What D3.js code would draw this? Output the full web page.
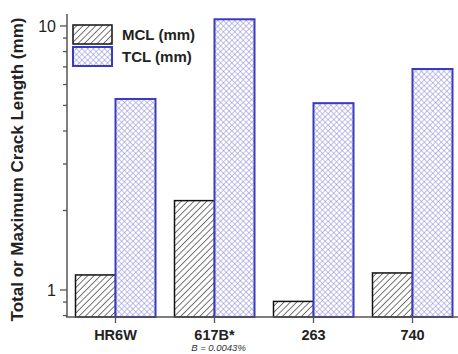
<!DOCTYPE html>
<html><head><meta charset="utf-8">
<script src="https://cdn.jsdelivr.net/npm/d3@7"></script>
<style>body{margin:0;background:#fff}svg{display:block}</style>
</head><body>
<svg id="c" width="458" height="354"></svg>
<script>
const categories = ["HR6W", "617B*", "263", "740"];
const mclValues = [1.14, 2.18, 0.905, 1.16];
const tclValues = [5.29, 10.6, 5.10, 6.87];
const seriesNames = ["MCL (mm)", "TCL (mm)"];
const yTickValues = [1, 10];
const yLabel = "Total or Maximum Crack Length (mm)";
const footnote = "B = 0.0043%";

const svg = d3.select("#c");
const defs = svg.append("defs");
const hatch = defs.append("pattern").attr("id","hatch").attr("patternUnits","userSpaceOnUse")
  .attr("width",4.5).attr("height",4.5).attr("patternTransform","rotate(45)");
hatch.append("rect").attr("width",4.5).attr("height",4.5).attr("fill","#fff");
hatch.append("line").attr("x1",0).attr("y1",0).attr("x2",0).attr("y2",4.5).attr("stroke","#1a1a1a").attr("stroke-width",1.2);
const cross = defs.append("pattern").attr("id","cross").attr("patternUnits","userSpaceOnUse")
  .attr("width",4).attr("height",4).attr("patternTransform","rotate(45)");
cross.append("rect").attr("width",4).attr("height",4).attr("fill","#fff");
cross.append("line").attr("x1",0).attr("y1",0).attr("x2",0).attr("y2",4).attr("stroke","#8e8ed6").attr("stroke-width",1.1);
cross.append("line").attr("x1",0).attr("y1",0).attr("x2",4).attr("y2",0).attr("stroke","#8e8ed6").attr("stroke-width",1.1);

const x0 = 67, yTop = 14, yBot = 317;
const x = d3.scaleBand().domain(categories).range([66, 462]).paddingInner(0).paddingOuter(0);
const y = d3.scaleLog().domain([0.79, 11.1]).range([yBot, yTop]);
const bw = 40;
const font = "Liberation Sans, Arial, sans-serif";

const g = svg.append("g");
categories.forEach((c,i)=>{
  const cx = x(c) + x.bandwidth()/2;
  g.append("rect").attr("x",cx-bw).attr("y",y(mclValues[i])).attr("width",bw)
    .attr("height",yBot-y(mclValues[i])).attr("fill","url(#hatch)").attr("stroke","#111").attr("stroke-width",1.5);
  g.append("rect").attr("x",cx).attr("y",y(tclValues[i])).attr("width",bw)
    .attr("height",yBot-y(tclValues[i])).attr("fill","url(#cross)").attr("stroke","#3a3ac4").attr("stroke-width",2);
});

// y axis
const minor = [0.8,0.9,2,3,4,5,6,7,8,9];
const ya = svg.append("g").attr("transform",`translate(${x0},0)`);
ya.append("line").attr("x1",0).attr("x2",0).attr("y1",yTop).attr("y2",yBot).attr("stroke","#555").attr("stroke-width",1.5);
ya.selectAll(".mn").data(minor).join("line").attr("x1",-4).attr("x2",0).attr("y1",d=>y(d)).attr("y2",d=>y(d)).attr("stroke","#555").attr("stroke-width",1.3);
ya.selectAll(".mj").data(yTickValues).join("line").attr("x1",-7).attr("x2",0).attr("y1",d=>y(d)).attr("y2",d=>y(d)).attr("stroke","#555").attr("stroke-width",1.3);
ya.selectAll(".tl").data(yTickValues).join("text").attr("x",-11).attr("y",d=>y(d)).attr("dy","0.36em")
  .attr("text-anchor","end").attr("font-family",font).attr("font-size",16).attr("fill","#222").text(d=>d);

// x axis
const xa = svg.append("g").attr("transform",`translate(0,${yBot})`);
xa.append("line").attr("x1",x0-1).attr("x2",458).attr("y1",0).attr("y2",0).attr("stroke","#555").attr("stroke-width",1.5);
xa.selectAll(".xt").data(categories).join("line").attr("x1",d=>x(d)+x.bandwidth()/2).attr("x2",d=>x(d)+x.bandwidth()/2)
  .attr("y1",0).attr("y2",6).attr("stroke","#555").attr("stroke-width",1.3);
xa.selectAll(".xl").data(categories).join("text").attr("x",d=>x(d)+x.bandwidth()/2).attr("y",23)
  .attr("text-anchor","middle").attr("font-family",font).attr("font-weight","bold")
  .attr("font-size",14.5).attr("fill","#222").text(d=>d);
xa.append("text").attr("x",x(categories[1])+x.bandwidth()/2+4).attr("y",34).attr("text-anchor","middle")
  .attr("font-family",font).attr("font-style","italic").attr("font-size",9.5).attr("fill","#333").text(footnote);

// y label
svg.append("text").attr("transform","translate(23,169.5) rotate(-90)").attr("text-anchor","middle")
  .attr("font-family",font).attr("font-weight","bold").attr("font-size",17).attr("fill","#222").text(yLabel);

// legend
const lg = svg.append("g");
const fills = ["url(#hatch)","url(#cross)"], strokes = ["#111","#3a3ac4"], sw=[1.5,2];
seriesNames.forEach((s,i)=>{
  lg.append("rect").attr("x",73).attr("y",25+i*22).attr("width",39).attr("height",19)
    .attr("fill",fills[i]).attr("stroke",strokes[i]).attr("stroke-width",sw[i]);
  lg.append("text").attr("x",122).attr("y",35+i*22).attr("dy","0.36em")
    .attr("font-family",font).attr("font-weight","bold").attr("font-size",15).attr("fill","#222").text(s);
});
</script>
</body></html>
